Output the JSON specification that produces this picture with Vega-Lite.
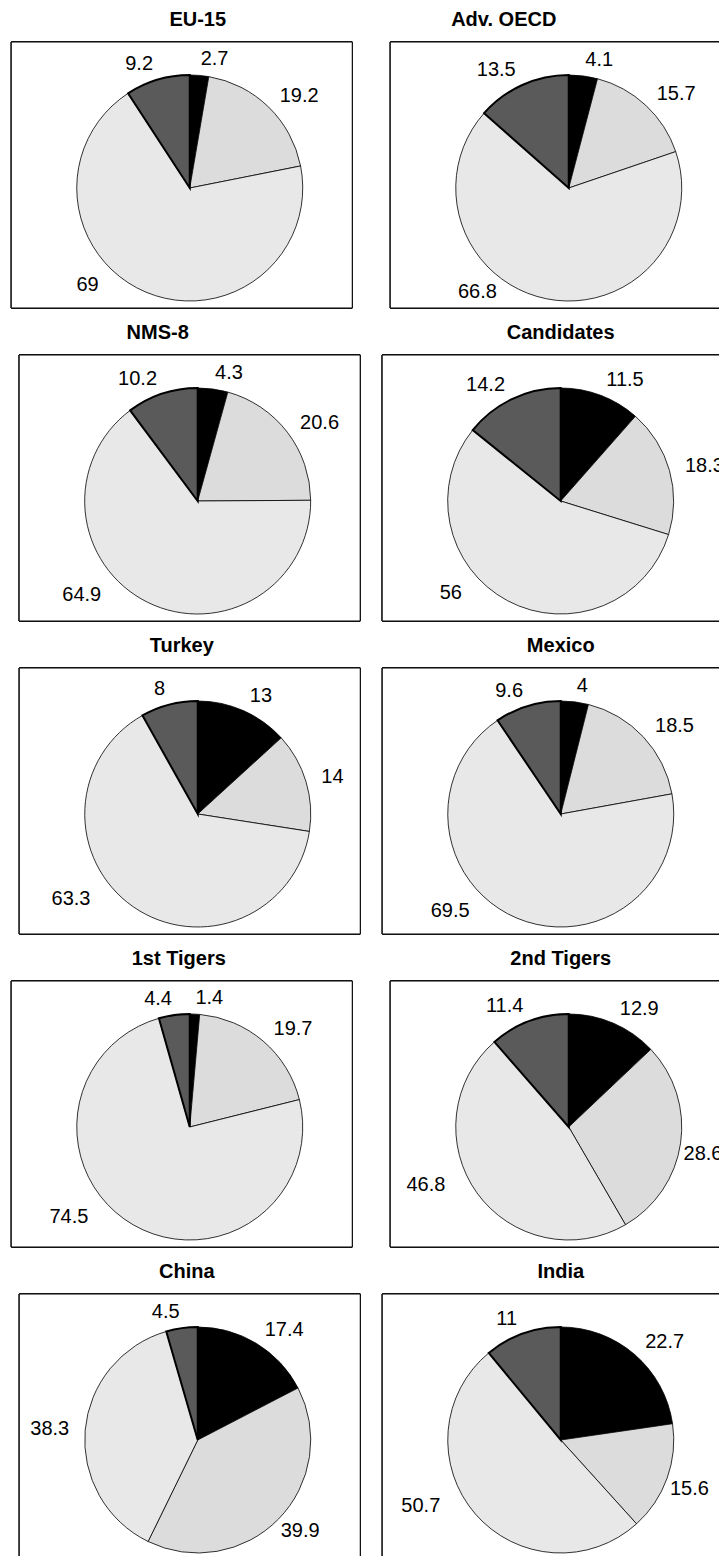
{
  "$schema": "https://vega.github.io/schema/vega-lite/v6.json",
  "padding": {"left": 10, "top": 9, "right": 0, "bottom": 0},
  "background": "white",
  "datasets": {
    "pies": [
      {"region": "EU-15", "sector": "s1", "share": 2.7},
      {"region": "EU-15", "sector": "s2", "share": 19.2},
      {"region": "EU-15", "sector": "s3", "share": 69},
      {"region": "EU-15", "sector": "s4", "share": 9.2},
      {"region": "Adv. OECD", "sector": "s1", "share": 4.1},
      {"region": "Adv. OECD", "sector": "s2", "share": 15.7},
      {"region": "Adv. OECD", "sector": "s3", "share": 66.8},
      {"region": "Adv. OECD", "sector": "s4", "share": 13.5},
      {"region": "NMS-8", "sector": "s1", "share": 4.3},
      {"region": "NMS-8", "sector": "s2", "share": 20.6},
      {"region": "NMS-8", "sector": "s3", "share": 64.9},
      {"region": "NMS-8", "sector": "s4", "share": 10.2},
      {"region": "Candidates", "sector": "s1", "share": 11.5},
      {"region": "Candidates", "sector": "s2", "share": 18.3},
      {"region": "Candidates", "sector": "s3", "share": 56},
      {"region": "Candidates", "sector": "s4", "share": 14.2},
      {"region": "Turkey", "sector": "s1", "share": 13},
      {"region": "Turkey", "sector": "s2", "share": 14},
      {"region": "Turkey", "sector": "s3", "share": 63.3},
      {"region": "Turkey", "sector": "s4", "share": 8},
      {"region": "Mexico", "sector": "s1", "share": 4},
      {"region": "Mexico", "sector": "s2", "share": 18.5},
      {"region": "Mexico", "sector": "s3", "share": 69.5},
      {"region": "Mexico", "sector": "s4", "share": 9.6},
      {"region": "1st Tigers", "sector": "s1", "share": 1.4},
      {"region": "1st Tigers", "sector": "s2", "share": 19.7},
      {"region": "1st Tigers", "sector": "s3", "share": 74.5},
      {"region": "1st Tigers", "sector": "s4", "share": 4.4},
      {"region": "2nd Tigers", "sector": "s1", "share": 12.9},
      {"region": "2nd Tigers", "sector": "s2", "share": 28.6},
      {"region": "2nd Tigers", "sector": "s3", "share": 46.8},
      {"region": "2nd Tigers", "sector": "s4", "share": 11.4},
      {"region": "China", "sector": "s1", "share": 17.4},
      {"region": "China", "sector": "s2", "share": 39.9},
      {"region": "China", "sector": "s3", "share": 38.3},
      {"region": "China", "sector": "s4", "share": 4.5},
      {"region": "India", "sector": "s1", "share": 22.7},
      {"region": "India", "sector": "s2", "share": 15.6},
      {"region": "India", "sector": "s3", "share": 50.7},
      {"region": "India", "sector": "s4", "share": 11}
    ]
  },
  "config": {
    "view": {"stroke": null},
    "title": {"font": "Liberation Sans", "fontSize": 20, "fontWeight": "bold", "color": "black", "offset": 12, "baseline": "alphabetic", "anchor": "middle", "frame": "group"}
  },
  "center": true,
  "spacing": 13,
  "vconcat": [
    {"spacing": 38, "bounds": "flush", "hconcat": [
      {"title": {"text": "EU-15", "dx": 16}, "width": 341, "height": 266, "data": {"name": "pies"}, "transform": [{"filter": "datum.region === 'EU-15'"}],
       "layer": [
         {"mark": {"type": "rect", "fill": "white", "stroke": "black", "strokeWidth": 1}},
         {"mark": {"type": "arc", "radius": 113, "stroke": "black", "xOffset": 8, "yOffset": 13}, "encoding": {"theta": {"field": "share", "type": "quantitative", "stack": "normalize"}, "order": {"field": "sector", "type": "nominal"}, "color": {"field": "sector", "type": "nominal", "scale": {"domain": ["s1", "s2", "s3", "s4"], "range": ["#000000", "#dcdcdc", "#e8e8e8", "#5a5a5a"]}, "legend": null}, "strokeWidth": {"condition": {"test": "datum.sector === 's4'", "value": 2}, "value": 0.8}}},
         {"mark": {"type": "text", "xOffset": 8, "yOffset": 13, "fontSize": 20, "font": "Liberation Sans", "color": "black", "align": {"expr": "(datum.share_start + datum.share_end) < 1 ? 'left' : 'right'"}, "baseline": {"expr": "(datum.share_start + datum.share_end) > 0.5 && (datum.share_start + datum.share_end) < 1 ? 'top' : ((datum.share_start + datum.share_end) >= 1 && (datum.share_start + datum.share_end) < 1.5 ? 'bottom' : 'middle')"}, "radius": {"expr": "(datum.share_start + datum.share_end) > 0.5 && (datum.share_start + datum.share_end) < 1.5 ? 116 : 129"}, "dx": {"expr": "(datum.share_start + datum.share_end) >= 1 && (datum.share_start + datum.share_end) < 1.5 ? 50 * cos(PI * (datum.share_start + datum.share_end)) : 0"}}, "encoding": {"theta": {"field": "share", "type": "quantitative", "stack": "normalize"}, "order": {"field": "sector", "type": "nominal"}, "text": {"field": "share", "type": "quantitative"}}}
       ]},
      {"title": {"text": "Adv. OECD", "dx": -57}, "width": 341, "height": 266, "data": {"name": "pies"}, "transform": [{"filter": "datum.region === 'Adv. OECD'"}],
       "layer": [
         {"mark": {"type": "rect", "fill": "white", "stroke": "black", "strokeWidth": 1}},
         {"mark": {"type": "arc", "radius": 113, "stroke": "black", "xOffset": 8, "yOffset": 13}, "encoding": {"theta": {"field": "share", "type": "quantitative", "stack": "normalize"}, "order": {"field": "sector", "type": "nominal"}, "color": {"field": "sector", "type": "nominal", "scale": {"domain": ["s1", "s2", "s3", "s4"], "range": ["#000000", "#dcdcdc", "#e8e8e8", "#5a5a5a"]}, "legend": null}, "strokeWidth": {"condition": {"test": "datum.sector === 's4'", "value": 2}, "value": 0.8}}},
         {"mark": {"type": "text", "xOffset": 8, "yOffset": 13, "fontSize": 20, "font": "Liberation Sans", "color": "black", "align": {"expr": "(datum.share_start + datum.share_end) < 1 ? 'left' : 'right'"}, "baseline": {"expr": "(datum.share_start + datum.share_end) > 0.5 && (datum.share_start + datum.share_end) < 1 ? 'top' : ((datum.share_start + datum.share_end) >= 1 && (datum.share_start + datum.share_end) < 1.5 ? 'bottom' : 'middle')"}, "radius": {"expr": "(datum.share_start + datum.share_end) > 0.5 && (datum.share_start + datum.share_end) < 1.5 ? 116 : 129"}, "dx": {"expr": "(datum.share_start + datum.share_end) >= 1 && (datum.share_start + datum.share_end) < 1.5 ? 50 * cos(PI * (datum.share_start + datum.share_end)) : 0"}}, "encoding": {"theta": {"field": "share", "type": "quantitative", "stack": "normalize"}, "order": {"field": "sector", "type": "nominal"}, "text": {"field": "share", "type": "quantitative"}}}
       ]}
    ]},
    {"spacing": 22, "bounds": "flush", "hconcat": [
      {"title": {"text": "NMS-8", "dx": -32}, "width": 341, "height": 266, "data": {"name": "pies"}, "transform": [{"filter": "datum.region === 'NMS-8'"}],
       "layer": [
         {"mark": {"type": "rect", "fill": "white", "stroke": "black", "strokeWidth": 1}},
         {"mark": {"type": "arc", "radius": 113, "stroke": "black", "xOffset": 8, "yOffset": 13}, "encoding": {"theta": {"field": "share", "type": "quantitative", "stack": "normalize"}, "order": {"field": "sector", "type": "nominal"}, "color": {"field": "sector", "type": "nominal", "scale": {"domain": ["s1", "s2", "s3", "s4"], "range": ["#000000", "#dcdcdc", "#e8e8e8", "#5a5a5a"]}, "legend": null}, "strokeWidth": {"condition": {"test": "datum.sector === 's4'", "value": 2}, "value": 0.8}}},
         {"mark": {"type": "text", "xOffset": 8, "yOffset": 13, "fontSize": 20, "font": "Liberation Sans", "color": "black", "align": {"expr": "(datum.share_start + datum.share_end) < 1 ? 'left' : 'right'"}, "baseline": {"expr": "(datum.share_start + datum.share_end) > 0.5 && (datum.share_start + datum.share_end) < 1 ? 'top' : ((datum.share_start + datum.share_end) >= 1 && (datum.share_start + datum.share_end) < 1.5 ? 'bottom' : 'middle')"}, "radius": {"expr": "(datum.share_start + datum.share_end) > 0.5 && (datum.share_start + datum.share_end) < 1.5 ? 116 : 129"}, "dx": {"expr": "(datum.share_start + datum.share_end) >= 1 && (datum.share_start + datum.share_end) < 1.5 ? 50 * cos(PI * (datum.share_start + datum.share_end)) : 0"}}, "encoding": {"theta": {"field": "share", "type": "quantitative", "stack": "normalize"}, "order": {"field": "sector", "type": "nominal"}, "text": {"field": "share", "type": "quantitative"}}}
       ]},
      {"title": {"text": "Candidates", "dx": 8}, "width": 341, "height": 266, "data": {"name": "pies"}, "transform": [{"filter": "datum.region === 'Candidates'"}],
       "layer": [
         {"mark": {"type": "rect", "fill": "white", "stroke": "black", "strokeWidth": 1}},
         {"mark": {"type": "arc", "radius": 113, "stroke": "black", "xOffset": 8, "yOffset": 13}, "encoding": {"theta": {"field": "share", "type": "quantitative", "stack": "normalize"}, "order": {"field": "sector", "type": "nominal"}, "color": {"field": "sector", "type": "nominal", "scale": {"domain": ["s1", "s2", "s3", "s4"], "range": ["#000000", "#dcdcdc", "#e8e8e8", "#5a5a5a"]}, "legend": null}, "strokeWidth": {"condition": {"test": "datum.sector === 's4'", "value": 2}, "value": 0.8}}},
         {"mark": {"type": "text", "xOffset": 8, "yOffset": 13, "fontSize": 20, "font": "Liberation Sans", "color": "black", "align": {"expr": "(datum.share_start + datum.share_end) < 1 ? 'left' : 'right'"}, "baseline": {"expr": "(datum.share_start + datum.share_end) > 0.5 && (datum.share_start + datum.share_end) < 1 ? 'top' : ((datum.share_start + datum.share_end) >= 1 && (datum.share_start + datum.share_end) < 1.5 ? 'bottom' : 'middle')"}, "radius": {"expr": "(datum.share_start + datum.share_end) > 0.5 && (datum.share_start + datum.share_end) < 1.5 ? 116 : 129"}, "dx": {"expr": "(datum.share_start + datum.share_end) >= 1 && (datum.share_start + datum.share_end) < 1.5 ? 50 * cos(PI * (datum.share_start + datum.share_end)) : 0"}}, "encoding": {"theta": {"field": "share", "type": "quantitative", "stack": "normalize"}, "order": {"field": "sector", "type": "nominal"}, "text": {"field": "share", "type": "quantitative"}}}
       ]}
    ]},
    {"spacing": 22, "bounds": "flush", "hconcat": [
      {"title": {"text": "Turkey", "dx": -8}, "width": 341, "height": 266, "data": {"name": "pies"}, "transform": [{"filter": "datum.region === 'Turkey'"}],
       "layer": [
         {"mark": {"type": "rect", "fill": "white", "stroke": "black", "strokeWidth": 1}},
         {"mark": {"type": "arc", "radius": 113, "stroke": "black", "xOffset": 8, "yOffset": 13}, "encoding": {"theta": {"field": "share", "type": "quantitative", "stack": "normalize"}, "order": {"field": "sector", "type": "nominal"}, "color": {"field": "sector", "type": "nominal", "scale": {"domain": ["s1", "s2", "s3", "s4"], "range": ["#000000", "#dcdcdc", "#e8e8e8", "#5a5a5a"]}, "legend": null}, "strokeWidth": {"condition": {"test": "datum.sector === 's4'", "value": 2}, "value": 0.8}}},
         {"mark": {"type": "text", "xOffset": 8, "yOffset": 13, "fontSize": 20, "font": "Liberation Sans", "color": "black", "align": {"expr": "(datum.share_start + datum.share_end) < 1 ? 'left' : 'right'"}, "baseline": {"expr": "(datum.share_start + datum.share_end) > 0.5 && (datum.share_start + datum.share_end) < 1 ? 'top' : ((datum.share_start + datum.share_end) >= 1 && (datum.share_start + datum.share_end) < 1.5 ? 'bottom' : 'middle')"}, "radius": {"expr": "(datum.share_start + datum.share_end) > 0.5 && (datum.share_start + datum.share_end) < 1.5 ? 116 : 129"}, "dx": {"expr": "(datum.share_start + datum.share_end) >= 1 && (datum.share_start + datum.share_end) < 1.5 ? 50 * cos(PI * (datum.share_start + datum.share_end)) : 0"}}, "encoding": {"theta": {"field": "share", "type": "quantitative", "stack": "normalize"}, "order": {"field": "sector", "type": "nominal"}, "text": {"field": "share", "type": "quantitative"}}}
       ]},
      {"title": {"text": "Mexico", "dx": 8}, "width": 341, "height": 266, "data": {"name": "pies"}, "transform": [{"filter": "datum.region === 'Mexico'"}],
       "layer": [
         {"mark": {"type": "rect", "fill": "white", "stroke": "black", "strokeWidth": 1}},
         {"mark": {"type": "arc", "radius": 113, "stroke": "black", "xOffset": 8, "yOffset": 13}, "encoding": {"theta": {"field": "share", "type": "quantitative", "stack": "normalize"}, "order": {"field": "sector", "type": "nominal"}, "color": {"field": "sector", "type": "nominal", "scale": {"domain": ["s1", "s2", "s3", "s4"], "range": ["#000000", "#dcdcdc", "#e8e8e8", "#5a5a5a"]}, "legend": null}, "strokeWidth": {"condition": {"test": "datum.sector === 's4'", "value": 2}, "value": 0.8}}},
         {"mark": {"type": "text", "xOffset": 8, "yOffset": 13, "fontSize": 20, "font": "Liberation Sans", "color": "black", "align": {"expr": "(datum.share_start + datum.share_end) < 1 ? 'left' : 'right'"}, "baseline": {"expr": "(datum.share_start + datum.share_end) > 0.5 && (datum.share_start + datum.share_end) < 1 ? 'top' : ((datum.share_start + datum.share_end) >= 1 && (datum.share_start + datum.share_end) < 1.5 ? 'bottom' : 'middle')"}, "radius": {"expr": "(datum.share_start + datum.share_end) > 0.5 && (datum.share_start + datum.share_end) < 1.5 ? 116 : 129"}, "dx": {"expr": "(datum.share_start + datum.share_end) >= 1 && (datum.share_start + datum.share_end) < 1.5 ? 50 * cos(PI * (datum.share_start + datum.share_end)) : 0"}}, "encoding": {"theta": {"field": "share", "type": "quantitative", "stack": "normalize"}, "order": {"field": "sector", "type": "nominal"}, "text": {"field": "share", "type": "quantitative"}}}
       ]}
    ]},
    {"spacing": 38, "bounds": "flush", "hconcat": [
      {"title": {"text": "1st Tigers", "dx": -3}, "width": 341, "height": 266, "data": {"name": "pies"}, "transform": [{"filter": "datum.region === '1st Tigers'"}],
       "layer": [
         {"mark": {"type": "rect", "fill": "white", "stroke": "black", "strokeWidth": 1}},
         {"mark": {"type": "arc", "radius": 113, "stroke": "black", "xOffset": 8, "yOffset": 13}, "encoding": {"theta": {"field": "share", "type": "quantitative", "stack": "normalize"}, "order": {"field": "sector", "type": "nominal"}, "color": {"field": "sector", "type": "nominal", "scale": {"domain": ["s1", "s2", "s3", "s4"], "range": ["#000000", "#dcdcdc", "#e8e8e8", "#5a5a5a"]}, "legend": null}, "strokeWidth": {"condition": {"test": "datum.sector === 's4'", "value": 2}, "value": 0.8}}},
         {"mark": {"type": "text", "xOffset": 8, "yOffset": 13, "fontSize": 20, "font": "Liberation Sans", "color": "black", "align": {"expr": "(datum.share_start + datum.share_end) < 1 ? 'left' : 'right'"}, "baseline": {"expr": "(datum.share_start + datum.share_end) > 0.5 && (datum.share_start + datum.share_end) < 1 ? 'top' : ((datum.share_start + datum.share_end) >= 1 && (datum.share_start + datum.share_end) < 1.5 ? 'bottom' : 'middle')"}, "radius": {"expr": "(datum.share_start + datum.share_end) > 0.5 && (datum.share_start + datum.share_end) < 1.5 ? 116 : 129"}, "dx": {"expr": "(datum.share_start + datum.share_end) >= 1 && (datum.share_start + datum.share_end) < 1.5 ? 50 * cos(PI * (datum.share_start + datum.share_end)) : 0"}}, "encoding": {"theta": {"field": "share", "type": "quantitative", "stack": "normalize"}, "order": {"field": "sector", "type": "nominal"}, "text": {"field": "share", "type": "quantitative"}}}
       ]},
      {"title": {"text": "2nd Tigers", "dx": 0}, "width": 341, "height": 266, "data": {"name": "pies"}, "transform": [{"filter": "datum.region === '2nd Tigers'"}],
       "layer": [
         {"mark": {"type": "rect", "fill": "white", "stroke": "black", "strokeWidth": 1}},
         {"mark": {"type": "arc", "radius": 113, "stroke": "black", "xOffset": 8, "yOffset": 13}, "encoding": {"theta": {"field": "share", "type": "quantitative", "stack": "normalize"}, "order": {"field": "sector", "type": "nominal"}, "color": {"field": "sector", "type": "nominal", "scale": {"domain": ["s1", "s2", "s3", "s4"], "range": ["#000000", "#dcdcdc", "#e8e8e8", "#5a5a5a"]}, "legend": null}, "strokeWidth": {"condition": {"test": "datum.sector === 's4'", "value": 2}, "value": 0.8}}},
         {"mark": {"type": "text", "xOffset": 8, "yOffset": 13, "fontSize": 20, "font": "Liberation Sans", "color": "black", "align": {"expr": "(datum.share_start + datum.share_end) < 1 ? 'left' : 'right'"}, "baseline": {"expr": "(datum.share_start + datum.share_end) > 0.5 && (datum.share_start + datum.share_end) < 1 ? 'top' : ((datum.share_start + datum.share_end) >= 1 && (datum.share_start + datum.share_end) < 1.5 ? 'bottom' : 'middle')"}, "radius": {"expr": "(datum.share_start + datum.share_end) > 0.5 && (datum.share_start + datum.share_end) < 1.5 ? 116 : 129"}, "dx": {"expr": "(datum.share_start + datum.share_end) >= 1 && (datum.share_start + datum.share_end) < 1.5 ? 50 * cos(PI * (datum.share_start + datum.share_end)) : 0"}}, "encoding": {"theta": {"field": "share", "type": "quantitative", "stack": "normalize"}, "order": {"field": "sector", "type": "nominal"}, "text": {"field": "share", "type": "quantitative"}}}
       ]}
    ]},
    {"spacing": 22, "bounds": "flush", "hconcat": [
      {"title": {"text": "China", "dx": -3}, "width": 341, "height": 266, "data": {"name": "pies"}, "transform": [{"filter": "datum.region === 'China'"}],
       "layer": [
         {"mark": {"type": "rect", "fill": "white", "stroke": "black", "strokeWidth": 1}},
         {"mark": {"type": "arc", "radius": 113, "stroke": "black", "xOffset": 8, "yOffset": 13}, "encoding": {"theta": {"field": "share", "type": "quantitative", "stack": "normalize"}, "order": {"field": "sector", "type": "nominal"}, "color": {"field": "sector", "type": "nominal", "scale": {"domain": ["s1", "s2", "s3", "s4"], "range": ["#000000", "#dcdcdc", "#e8e8e8", "#5a5a5a"]}, "legend": null}, "strokeWidth": {"condition": {"test": "datum.sector === 's4'", "value": 2}, "value": 0.8}}},
         {"mark": {"type": "text", "xOffset": 8, "yOffset": 13, "fontSize": 20, "font": "Liberation Sans", "color": "black", "align": {"expr": "(datum.share_start + datum.share_end) < 1 ? 'left' : 'right'"}, "baseline": {"expr": "(datum.share_start + datum.share_end) > 0.5 && (datum.share_start + datum.share_end) < 1 ? 'top' : ((datum.share_start + datum.share_end) >= 1 && (datum.share_start + datum.share_end) < 1.5 ? 'bottom' : 'middle')"}, "radius": {"expr": "(datum.share_start + datum.share_end) > 0.5 && (datum.share_start + datum.share_end) < 1.5 ? 116 : 129"}, "dx": {"expr": "(datum.share_start + datum.share_end) >= 1 && (datum.share_start + datum.share_end) < 1.5 ? 50 * cos(PI * (datum.share_start + datum.share_end)) : 0"}}, "encoding": {"theta": {"field": "share", "type": "quantitative", "stack": "normalize"}, "order": {"field": "sector", "type": "nominal"}, "text": {"field": "share", "type": "quantitative"}}}
       ]},
      {"title": {"text": "India", "dx": 8}, "width": 341, "height": 266, "data": {"name": "pies"}, "transform": [{"filter": "datum.region === 'India'"}],
       "layer": [
         {"mark": {"type": "rect", "fill": "white", "stroke": "black", "strokeWidth": 1}},
         {"mark": {"type": "arc", "radius": 113, "stroke": "black", "xOffset": 8, "yOffset": 13}, "encoding": {"theta": {"field": "share", "type": "quantitative", "stack": "normalize"}, "order": {"field": "sector", "type": "nominal"}, "color": {"field": "sector", "type": "nominal", "scale": {"domain": ["s1", "s2", "s3", "s4"], "range": ["#000000", "#dcdcdc", "#e8e8e8", "#5a5a5a"]}, "legend": null}, "strokeWidth": {"condition": {"test": "datum.sector === 's4'", "value": 2}, "value": 0.8}}},
         {"mark": {"type": "text", "xOffset": 8, "yOffset": 13, "fontSize": 20, "font": "Liberation Sans", "color": "black", "align": {"expr": "(datum.share_start + datum.share_end) < 1 ? 'left' : 'right'"}, "baseline": {"expr": "(datum.share_start + datum.share_end) > 0.5 && (datum.share_start + datum.share_end) < 1 ? 'top' : ((datum.share_start + datum.share_end) >= 1 && (datum.share_start + datum.share_end) < 1.5 ? 'bottom' : 'middle')"}, "radius": {"expr": "(datum.share_start + datum.share_end) > 0.5 && (datum.share_start + datum.share_end) < 1.5 ? 116 : 129"}, "dx": {"expr": "(datum.share_start + datum.share_end) >= 1 && (datum.share_start + datum.share_end) < 1.5 ? 50 * cos(PI * (datum.share_start + datum.share_end)) : 0"}}, "encoding": {"theta": {"field": "share", "type": "quantitative", "stack": "normalize"}, "order": {"field": "sector", "type": "nominal"}, "text": {"field": "share", "type": "quantitative"}}}
       ]}
    ]}
  ]
}
